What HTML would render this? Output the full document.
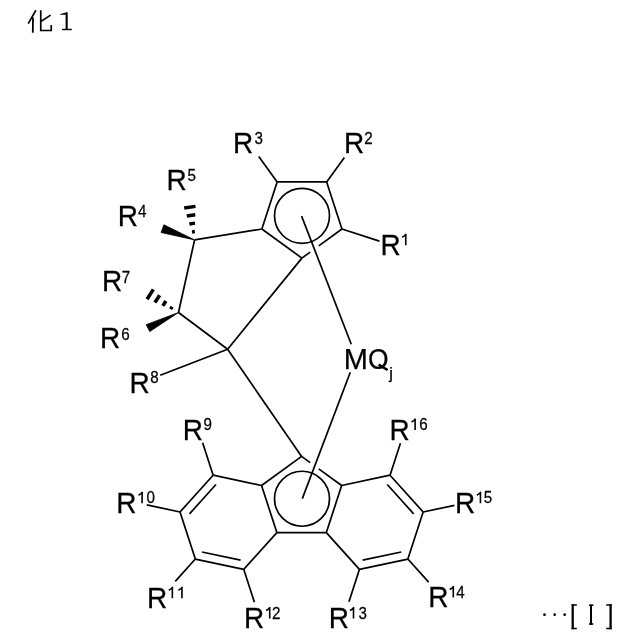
<!DOCTYPE html>
<html><head><meta charset="utf-8"><style>
html,body{margin:0;padding:0;background:#fff;}
body{width:640px;height:640px;overflow:hidden;}
svg{display:block;will-change:transform;}
text{font-family:"Liberation Sans", sans-serif;fill:#000;stroke:#000;stroke-width:0.25px;}
</style></head><body>
<svg width="640" height="640" viewBox="0 0 640 640">
<rect width="640" height="640" fill="#fff"/>
<g fill="none" stroke="#000" stroke-linecap="butt">
<path d="M35.9 10.3 L28.2 23.6" stroke-width="1.7"/>
<path d="M33.0 17.6 L32.8 32.7" stroke-width="1.8"/>
<path d="M40.75 10.3 L40.75 30.5 L51.25 30.5 L51.25 25.0" stroke-width="1.7"/>
<path d="M50.7 15.1 L40.75 21.5" stroke-width="1.6"/>
<path d="M66.65 12.6 L66.65 29.6" stroke-width="2.1"/>
<path d="M62.0 29.5 L71.8 29.5" stroke-width="1.4"/>
</g>
<polygon points="67.7,12.2 66.0,12.4 60.2,14.1 60.4,14.8 65.6,14.8" fill="#000"/>
<g stroke="#000" fill="none" stroke-linecap="butt">
<line x1="261.86" y1="229.01" x2="277.15" y2="181.94" stroke-width="1.7"/>
<line x1="277.15" y1="181.94" x2="326.65" y2="181.94" stroke-width="1.7"/>
<line x1="326.65" y1="181.94" x2="341.94" y2="229.01" stroke-width="1.7"/>
<line x1="301.90" y1="258.10" x2="261.86" y2="229.01" stroke-width="1.7"/>
<line x1="341.94" y1="229.01" x2="318.76" y2="245.85" stroke-width="1.7"/>
<line x1="310.19" y1="252.08" x2="301.90" y2="258.10" stroke-width="1.7"/>
<circle cx="302" cy="215.8" r="27.5" fill="none" stroke-width="1.7"/>
<line x1="258.76" y1="156.62" x2="277.15" y2="181.94" stroke-width="1.7"/>
<line x1="344.40" y1="157.51" x2="326.65" y2="181.94" stroke-width="1.7"/>
<line x1="341.94" y1="229.01" x2="379.41" y2="241.18" stroke-width="1.7"/>
<line x1="261.86" y1="229.01" x2="194.60" y2="239.90" stroke-width="1.7"/>
<line x1="194.60" y1="239.90" x2="178.50" y2="312.50" stroke-width="1.7"/>
<line x1="178.50" y1="312.50" x2="227.65" y2="349.25" stroke-width="1.7"/>
<line x1="227.65" y1="349.25" x2="301.90" y2="258.10" stroke-width="1.7"/>
<line x1="227.65" y1="349.25" x2="160.20" y2="375.20" stroke-width="1.7"/>
<line x1="227.65" y1="349.25" x2="301.60" y2="456.40" stroke-width="1.7"/>
<line x1="261.56" y1="485.49" x2="301.60" y2="456.40" stroke-width="1.7"/>
<line x1="301.60" y1="456.40" x2="310.21" y2="462.65" stroke-width="1.7"/>
<line x1="318.74" y1="468.85" x2="341.64" y2="485.49" stroke-width="1.7"/>
<line x1="276.85" y1="532.56" x2="326.35" y2="532.56" stroke-width="1.7"/>
<line x1="261.56" y1="485.49" x2="276.85" y2="532.56" stroke-width="1.7"/>
<line x1="341.64" y1="485.49" x2="326.35" y2="532.56" stroke-width="1.7"/>
<circle cx="302" cy="498.75" r="27.5" fill="none" stroke-width="1.7"/>
<line x1="301.60" y1="216.10" x2="351.25" y2="344.20" stroke-width="1.7"/>
<line x1="350.30" y1="372.30" x2="302.30" y2="498.60" stroke-width="1.7"/>
<line x1="243.74" y1="569.34" x2="195.33" y2="559.05" stroke-width="1.7"/>
<line x1="195.33" y1="559.05" x2="180.03" y2="511.98" stroke-width="1.7"/>
<line x1="180.03" y1="511.98" x2="213.15" y2="475.20" stroke-width="1.7"/>
<line x1="213.15" y1="475.20" x2="261.56" y2="485.49" stroke-width="1.7"/>
<line x1="276.85" y1="532.56" x2="243.74" y2="569.34" stroke-width="1.7"/>
<line x1="189.55" y1="513.82" x2="215.97" y2="484.47" stroke-width="1.7"/>
<line x1="240.57" y1="560.18" x2="201.94" y2="551.97" stroke-width="1.7"/>
<line x1="341.64" y1="485.49" x2="390.05" y2="475.20" stroke-width="1.7"/>
<line x1="390.05" y1="475.20" x2="423.17" y2="511.98" stroke-width="1.7"/>
<line x1="423.17" y1="511.98" x2="407.87" y2="559.05" stroke-width="1.7"/>
<line x1="407.87" y1="559.05" x2="359.46" y2="569.34" stroke-width="1.7"/>
<line x1="359.46" y1="569.34" x2="326.35" y2="532.56" stroke-width="1.7"/>
<line x1="387.23" y1="484.47" x2="413.65" y2="513.82" stroke-width="1.7"/>
<line x1="401.26" y1="551.97" x2="362.63" y2="560.18" stroke-width="1.7"/>
<line x1="213.15" y1="475.20" x2="202.64" y2="442.86" stroke-width="1.7"/>
<line x1="180.03" y1="511.98" x2="146.78" y2="504.91" stroke-width="1.7"/>
<line x1="195.33" y1="559.05" x2="175.25" y2="581.34" stroke-width="1.7"/>
<line x1="243.74" y1="569.34" x2="254.40" y2="602.15" stroke-width="1.7"/>
<line x1="359.46" y1="569.34" x2="348.96" y2="601.67" stroke-width="1.7"/>
<line x1="407.87" y1="559.05" x2="428.62" y2="582.09" stroke-width="1.7"/>
<line x1="423.17" y1="511.98" x2="454.47" y2="505.33" stroke-width="1.7"/>
<line x1="390.05" y1="475.20" x2="400.43" y2="443.25" stroke-width="1.7"/>
<polygon points="194.60,239.90 163.86,224.78 161.14,232.52" fill="#000" stroke="#000" stroke-width="0.8" stroke-linejoin="miter"/>
<line x1="194.82" y1="231.52" x2="192.00" y2="231.93" stroke-width="3.5"/>
<line x1="195.05" y1="223.14" x2="189.40" y2="223.96" stroke-width="3.5"/>
<line x1="195.27" y1="214.76" x2="186.81" y2="215.99" stroke-width="3.5"/>
<line x1="195.49" y1="206.38" x2="184.21" y2="208.02" stroke-width="3.5"/>
<polygon points="178.50,312.50 146.22,324.63 149.78,331.57" fill="#000" stroke="#000" stroke-width="0.8" stroke-linejoin="miter"/>
<line x1="172.21" y1="306.73" x2="170.64" y2="309.17" stroke-width="3.5"/>
<line x1="165.92" y1="300.96" x2="162.78" y2="305.84" stroke-width="3.5"/>
<line x1="159.63" y1="295.19" x2="154.92" y2="302.51" stroke-width="3.5"/>
<line x1="153.34" y1="289.42" x2="147.06" y2="299.18" stroke-width="3.5"/>
</g>
<text transform="translate(380.50,254.60) scale(0.966,1)" font-size="29.0">R</text>
<path d="M405.75 245.30 L405.75 234.20 M406.25 233.90 Q404.75 236.30 402.15 237.20" fill="none" stroke="#000" stroke-width="1.6"/>
<text transform="translate(343.90,153.00) scale(0.966,1)" font-size="29.0">R</text>
<text transform="translate(364.34,144.00) scale(0.92,1)" font-size="16.5">2</text>
<text transform="translate(233.10,152.90) scale(0.966,1)" font-size="29.0">R</text>
<text transform="translate(254.42,143.90) scale(0.92,1)" font-size="16.5">3</text>
<text transform="translate(117.80,225.50) scale(0.966,1)" font-size="29.0">R</text>
<text transform="translate(137.95,217.20) scale(0.92,1)" font-size="16.5">4</text>
<text transform="translate(166.40,189.60) scale(0.966,1)" font-size="29.0">R</text>
<text transform="translate(187.59,181.30) scale(0.92,1)" font-size="16.5">5</text>
<text transform="translate(100.00,348.00) scale(0.966,1)" font-size="29.0">R</text>
<text transform="translate(121.13,339.70) scale(0.92,1)" font-size="16.5">6</text>
<text transform="translate(102.10,291.00) scale(0.966,1)" font-size="29.0">R</text>
<text transform="translate(121.82,282.70) scale(0.92,1)" font-size="16.5">7</text>
<text transform="translate(129.60,392.70) scale(0.966,1)" font-size="29.0">R</text>
<text transform="translate(150.34,383.40) scale(0.92,1)" font-size="16.5">8</text>
<text transform="translate(182.80,439.70) scale(0.966,1)" font-size="29.0">R</text>
<text transform="translate(203.39,430.00) scale(0.92,1)" font-size="16.5">9</text>
<text transform="translate(116.20,512.70) scale(0.966,1)" font-size="29.0">R</text>
<path d="M142.10 503.30 L142.10 492.20 M142.60 491.90 Q141.10 494.30 138.50 495.20" fill="none" stroke="#000" stroke-width="1.6"/>
<text transform="translate(146.51,503.30) scale(0.92,1)" font-size="16.5">0</text>
<text transform="translate(146.90,608.00) scale(0.966,1)" font-size="29.0">R</text>
<path d="M172.35 598.30 L172.35 587.20 M172.85 586.90 Q171.35 589.30 168.75 590.20" fill="none" stroke="#000" stroke-width="1.6"/>
<path d="M181.95 598.30 L181.95 587.20 M182.45 586.90 Q180.95 589.30 178.35 590.20" fill="none" stroke="#000" stroke-width="1.6"/>
<text transform="translate(244.10,627.80) scale(0.966,1)" font-size="29.0">R</text>
<path d="M269.70 618.50 L269.70 607.40 M270.20 607.10 Q268.70 609.50 266.10 610.40" fill="none" stroke="#000" stroke-width="1.6"/>
<text transform="translate(272.04,618.50) scale(0.92,1)" font-size="16.5">2</text>
<text transform="translate(328.80,627.80) scale(0.966,1)" font-size="29.0">R</text>
<path d="M353.50 618.60 L353.50 607.50 M354.00 607.20 Q352.50 609.60 349.90 610.50" fill="none" stroke="#000" stroke-width="1.6"/>
<text transform="translate(358.52,618.60) scale(0.92,1)" font-size="16.5">3</text>
<text transform="translate(428.30,607.20) scale(0.966,1)" font-size="29.0">R</text>
<path d="M453.30 597.60 L453.30 586.50 M453.80 586.20 Q452.30 588.60 449.70 589.50" fill="none" stroke="#000" stroke-width="1.6"/>
<text transform="translate(456.35,597.60) scale(0.92,1)" font-size="16.5">4</text>
<text transform="translate(455.00,512.90) scale(0.966,1)" font-size="29.0">R</text>
<path d="M480.45 503.30 L480.45 492.20 M480.95 491.90 Q479.45 494.30 476.85 495.20" fill="none" stroke="#000" stroke-width="1.6"/>
<text transform="translate(483.69,503.30) scale(0.92,1)" font-size="16.5">5</text>
<text transform="translate(389.60,439.70) scale(0.966,1)" font-size="29.0">R</text>
<path d="M415.10 430.00 L415.10 418.90 M415.60 418.60 Q414.10 421.00 411.50 421.90" fill="none" stroke="#000" stroke-width="1.6"/>
<text transform="translate(419.23,430.00) scale(0.92,1)" font-size="16.5">6</text>
<text x="343.72" y="369.20" font-size="29.0">M</text>
<text transform="translate(367.95,369.2) scale(0.91,1)" font-size="29.0">O</text>
<path d="M378.6 364.6 L387.6 370.0" stroke="#000" stroke-width="2.6" fill="none"/>
<text x="389.30" y="379.3" font-size="16.5">j</text>
<g fill="#000" stroke="none">
<circle cx="544.5" cy="614.7" r="1.35"/><circle cx="554.7" cy="614.7" r="1.35"/><circle cx="564.7" cy="614.7" r="1.35"/>
</g>
<g fill="none" stroke="#000">
<path d="M572.7 604.2 L572.7 629.3" stroke-width="2.3"/>
<path d="M571.6 605.0 L576.8 605.0 M571.6 628.5 L576.8 628.5" stroke-width="1.6"/>
<path d="M610.6 604.2 L610.6 629.3" stroke-width="2.3"/>
<path d="M606.2 605.0 L611.7 605.0 M606.2 628.5 L611.7 628.5" stroke-width="1.6"/>
<path d="M591.0 604.6 L591.0 624.8" stroke-width="2.0"/>
<path d="M589.0 605.3 L593.4 605.3 M589.0 624.0 L593.4 624.0" stroke-width="1.4"/>
</g>
</svg>
</body></html>
